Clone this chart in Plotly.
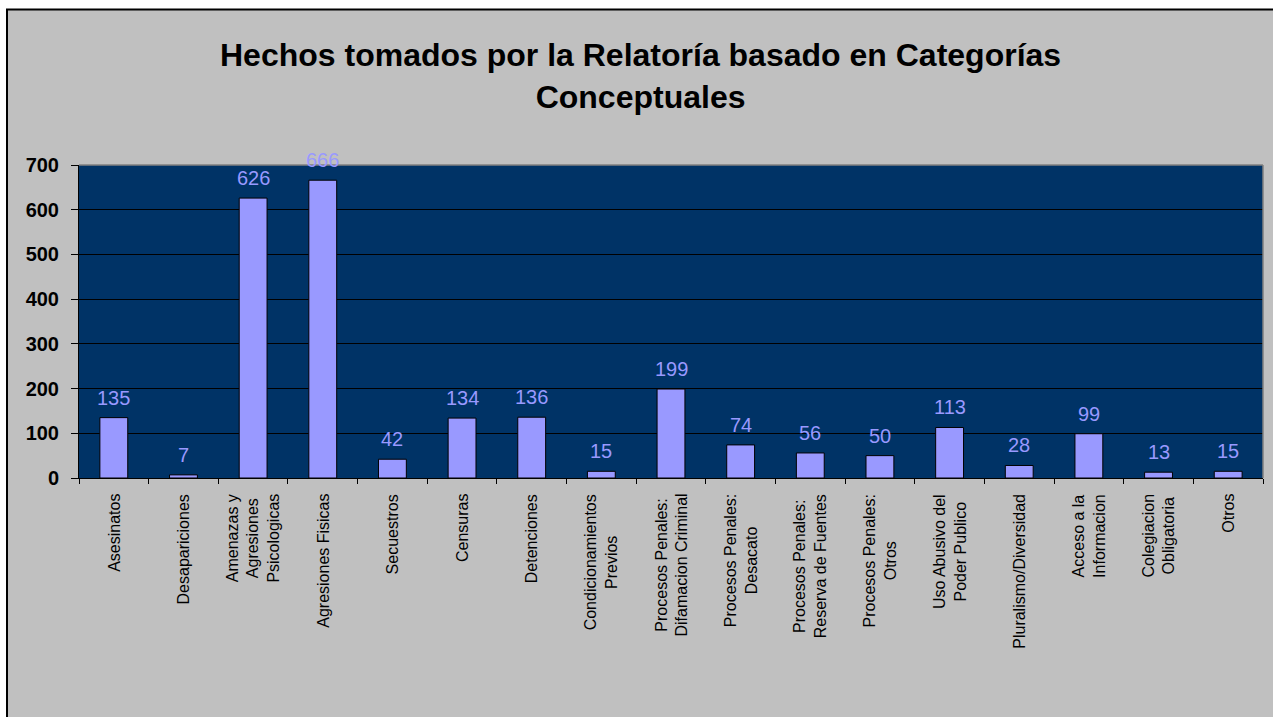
import plotly.graph_objects as go

# Categorías conceptuales y número de hechos registrados
categorias = [
    "Asesinatos",
    "Desapariciones",
    "Amenazas y<br>Agresiones<br>Psicologicas",
    "Agresiones Fisicas",
    "Secuestros",
    "Censuras",
    "Detenciones",
    "Condicionamientos<br>Previos",
    "Procesos Penales:<br>Difamacion Criminal",
    "Procesos Penales:<br>Desacato",
    "Procesos Penales:<br>Reserva de Fuentes",
    "Procesos Penales:<br>Otros",
    "Uso Abusivo del<br>Poder Publico",
    "Pluralismo/Diversidad",
    "Acceso a la<br>Informacion",
    "Colegiacion<br>Obligatoria",
    "Otros",
]
hechos = [135, 7, 626, 666, 42, 134, 136, 15, 199, 74, 56, 50, 113, 28, 99, 13, 15]
y_ticks = [0, 100, 200, 300, 400, 500, 600, 700]
titulo = "Hechos tomados por la Relatoría basado en Categorías<br>Conceptuales"

W, H = 1273, 717
L, R, T, B = 79, 1263, 165, 478  # plot area edges in pixels
FONT = "Liberation Sans, Arial, sans-serif"


def px_x(p):
    return (p - L) / (R - L)


def px_y(p):
    return (B - p) / (B - T)


x_pos = list(range(len(categorias)))

fig = go.Figure(
    go.Bar(
        x=x_pos,
        y=hechos,
        width=0.4,
        marker=dict(color="#9999FF", line=dict(color="black", width=1)),
        hoverinfo="skip",
    )
)

# Etiquetas de valor encima de cada barra
for xi, v in zip(x_pos, hechos):
    fig.add_annotation(
        x=xi, y=v, xref="x", yref="y",
        text=str(v), showarrow=False,
        yanchor="bottom", yshift=7,
        font=dict(family=FONT, size=20, color="#9999FF"),
    )

# Nombres de categoría, rotados y centrados
for xi, name in zip(x_pos, categorias):
    fig.add_annotation(
        x=xi, y=0, xref="x", yref="paper",
        text=name, showarrow=False, textangle=-90,
        yanchor="top", xanchor="center", yshift=-14, align="center",
        font=dict(family=FONT, size=16, color="black"),
    )

# Título en dos líneas
fig.add_annotation(
    x=px_x(640), y=px_y(35), xref="paper", yref="paper",
    text="<b>" + titulo + "</b>", showarrow=False,
    xanchor="center", yanchor="top", align="center",
    font=dict(family=FONT, size=32, color="black"),
)

shapes = [
    # franjas blancas fuera del marco gris
    dict(type="rect", xref="paper", yref="paper", x0=px_x(-5), x1=px_x(W + 5),
         y0=px_y(9), y1=px_y(-5), fillcolor="white", line_width=0, layer="above"),
    dict(type="rect", xref="paper", yref="paper", x0=px_x(-5), x1=px_x(6),
         y0=px_y(H + 5), y1=px_y(-5), fillcolor="white", line_width=0, layer="above"),
    # borde negro del área del gráfico
    dict(type="line", xref="paper", yref="paper", x0=px_x(6), x1=px_x(W + 5),
         y0=px_y(9.5), y1=px_y(9.5), line=dict(color="black", width=2), layer="above"),
    dict(type="line", xref="paper", yref="paper", x0=px_x(7), x1=px_x(7),
         y0=px_y(9), y1=px_y(H + 5), line=dict(color="black", width=2), layer="above"),
    # borde gris superior y derecho del área de trazado
    dict(type="line", xref="paper", yref="paper", x0=0, x1=1, y0=1, y1=1,
         line=dict(color="#808080", width=1.5), layer="above"),
    dict(type="line", xref="paper", yref="paper", x0=1, x1=1, y0=0, y1=1,
         line=dict(color="#808080", width=1.5), layer="above"),
]

fig.update_layout(
    width=W, height=H,
    margin=dict(l=L, r=W - R, t=T, b=H - B, pad=0),
    paper_bgcolor="#C0C0C0",
    plot_bgcolor="#003366",
    showlegend=False,
    bargap=0.6,
    shapes=shapes,
    xaxis=dict(
        type="category",
        tickmode="array", tickvals=x_pos, ticktext=[""] * len(x_pos),
        showticklabels=False,
        ticks="outside", tickson="boundaries", ticklen=5, tickcolor="black", tickwidth=1,
        showline=True, linecolor="black", linewidth=1,
        showgrid=False, range=[-0.5, len(x_pos) - 0.5],
    ),
    yaxis=dict(
        range=[0, 700], tickmode="array", tickvals=y_ticks,
        ticks="outside", ticklen=7, tickcolor="black", tickwidth=1,
        ticklabelstandoff=8,
        tickfont=dict(family=FONT, size=20, color="black", weight="bold"),
        showline=True, linecolor="black", linewidth=1,
        showgrid=True, gridcolor="black", gridwidth=1,
        zeroline=False,
    ),
)

fig.write_html("out.html")
